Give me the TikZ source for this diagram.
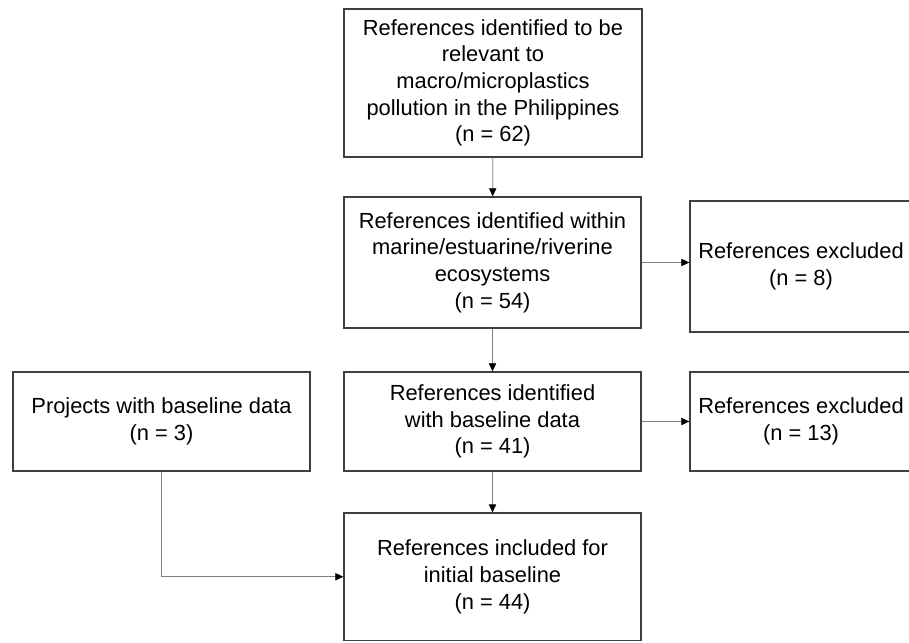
\documentclass[tikz,border=0pt]{standalone}
\usepackage{fontspec}
\setmainfont{Liberation Sans}
\usetikzlibrary{arrows.meta}
\begin{document}
\begin{tikzpicture}[x=0.75pt,y=-0.75pt,
	box/.style={draw=black!75,line width=1pt,align=center,inner sep=0pt,
		font=\fontsize{16.4}{20}\selectfont},
	link/.style={draw=black!50,line width=0.6pt,
		-{Triangle[length=6pt,width=5.5pt,color=black]}}]
	\useasboundingbox (0,0) rectangle (909,642);

	% main column
	\node[box,minimum width=223.5pt,minimum height=111pt] (relevant) at (493,83)
		{References identified to be\\relevant to\\macro/microplastics\\pollution in the Philippines\\(n = 62)};
	\node[box,minimum width=222.75pt,minimum height=98.25pt] (marine) at (492.5,262.5)
		{References identified within\\marine/estuarine/riverine\\ecosystems\\(n = 54)};
	\node[box,minimum width=222.75pt,minimum height=74.25pt] (baseline) at (492.5,421.5)
		{References identified\\with baseline data\\(n = 41)};
	\node[box,minimum width=222.75pt,minimum height=95.6pt] (included) at (492.5,576.75)
		{References included for\\initial baseline\\(n = 44)};

	% side boxes
	\node[box,minimum width=166.5pt,minimum height=98.25pt] (excl8) at (801,266.5)
		{References excluded\\(n = 8)};
	\node[box,minimum width=166.5pt,minimum height=74.25pt] (excl13) at (801,421.5)
		{References excluded\\(n = 13)};
	\node[box,minimum width=222.75pt,minimum height=74.25pt] (projects) at (161.5,421.5)
		{Projects with baseline data\\(n = 3)};

	% connectors
	\draw[link] (relevant) -- (marine);
	\draw[link] (marine) -- (marine.east -| excl8.west);
	\draw[link] (marine) -- (baseline);
	\draw[link] (baseline) -- (excl13);
	\draw[link] (baseline) -- (included);
	\draw[link] (projects.south) |- (included.west);
\end{tikzpicture}
\end{document}
